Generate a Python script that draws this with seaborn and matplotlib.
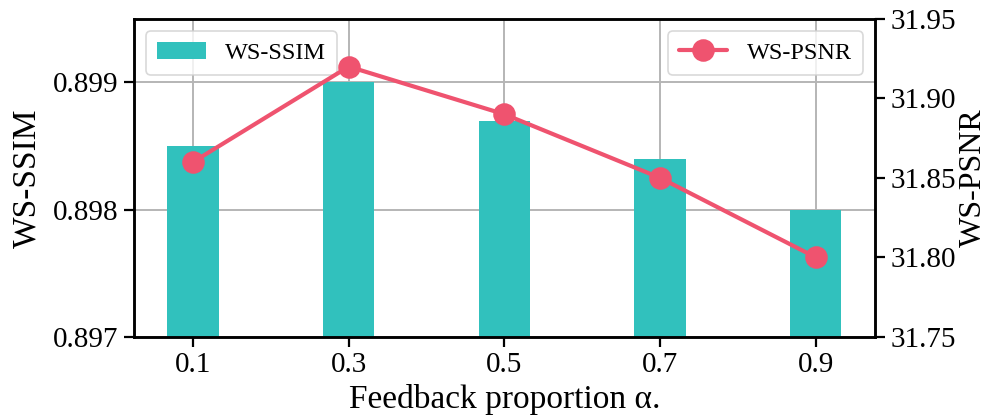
import matplotlib
matplotlib.use("Agg")
import matplotlib.pyplot as plt
import seaborn as sns
import pandas as pd

# Feedback proportion sweep
alphas = ["0.1", "0.3", "0.5", "0.7", "0.9"]
ws_ssim = [0.8985, 0.8990, 0.8987, 0.8984, 0.8980]
ws_psnr = [31.86, 31.92, 31.89, 31.85, 31.80]

ssim_ticks = [0.897, 0.898, 0.899]
psnr_ticks = [31.75, 31.80, 31.85, 31.90, 31.95]

bar_color = "#31c1bd"
line_color = "#ef536f"

sns.set_theme(style="white")
plt.rcParams["font.family"] = ["Liberation Serif", "DejaVu Serif"]
plt.rcParams["mathtext.fontset"] = "stix"
plt.rcParams.update({"text.color": "black", "axes.labelcolor": "black",
                     "xtick.color": "black", "ytick.color": "black"})

df = pd.DataFrame({"alpha": alphas, "ssim": ws_ssim, "psnr": ws_psnr})

fig = plt.figure(figsize=(9.92, 4.2), dpi=100)
ax = fig.add_axes([0.135, 0.198, 0.747, 0.757])

sns.barplot(data=df, x="alpha", y="ssim", color=bar_color, saturation=1,
            width=0.33, ax=ax, label="WS-SSIM", zorder=2, linewidth=0)
ax.set_ylim(0.897, 0.8995)
ax.set_yticks(ssim_ticks)
ax.set_yticklabels([f"{t:.3f}" for t in ssim_ticks])
ax.grid(True, color="#b5b5b5", linewidth=1.4, zorder=0)
ax.set_axisbelow(True)

ax2 = ax.twinx()
sns.pointplot(data=df, x="alpha", y="psnr", color=line_color, markers="o",
              linestyles="-", ax=ax2, label="WS-PSNR",
              markersize=14, linewidth=3)
ax2.set_ylim(31.75, 31.95)
ax2.set_yticks(psnr_ticks)
ax2.set_yticklabels([f"{t:.2f}" for t in psnr_ticks])
ax.set_xlim(-0.38, 4.38)
ax2.set_xlim(-0.38, 4.38)

ax.set_xlabel("Feedback proportion α.", fontsize=24, labelpad=4)
ax.set_ylabel("WS-SSIM", fontsize=24, labelpad=8)
ax2.set_ylabel("WS-PSNR", fontsize=23, labelpad=2)

for a in (ax, ax2):
    a.tick_params(axis="both", labelsize=21, direction="out", length=7,
                  width=1.6, color="black", labelcolor="black",
                  left=(a is ax), right=(a is ax2), bottom=True, pad=4)
    for s in a.spines.values():
        s.set_color("black")
        s.set_linewidth(1.8)

leg1 = ax.legend(loc="upper left", fontsize=17.5, frameon=True, fancybox=True,
                 handlelength=2.0, borderpad=0.45, borderaxespad=0.5)
leg1.get_frame().set_edgecolor("#d0d0d0")
leg1.get_frame().set_linewidth(1.2)
leg2 = ax2.legend(loc="upper right", fontsize=17.5, frameon=True, fancybox=True,
                  handlelength=2.0, borderpad=0.45, borderaxespad=0.5)
leg2.get_frame().set_edgecolor("#d0d0d0")
leg2.get_frame().set_linewidth(1.2)

fig.savefig("out.png", dpi=100)
